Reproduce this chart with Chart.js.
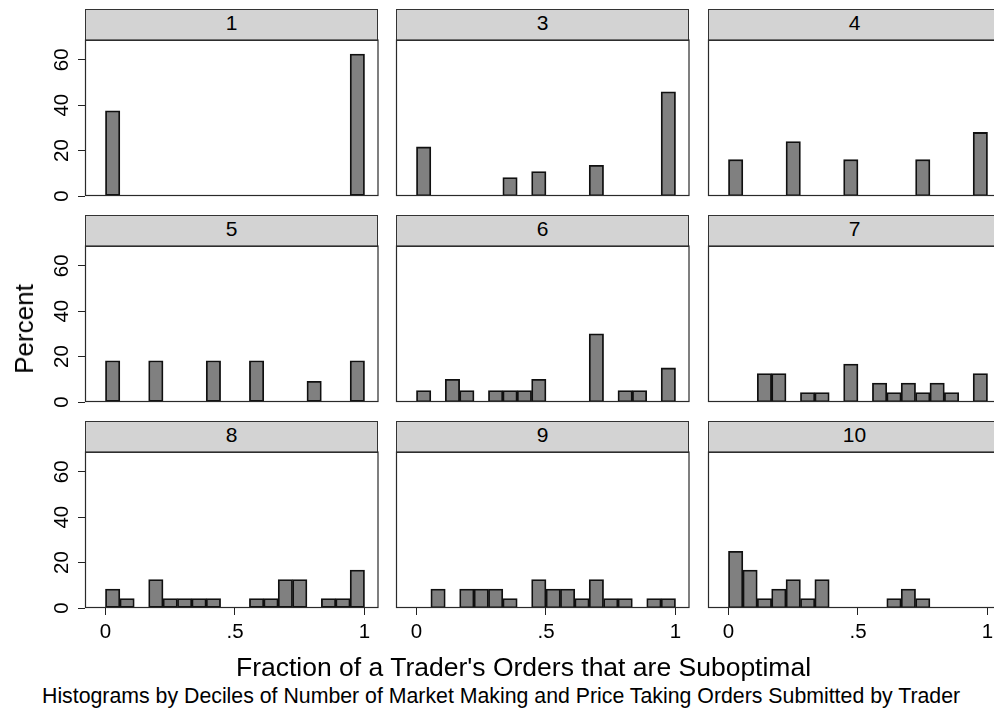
<!DOCTYPE html>
<html>
<head>
<meta charset="utf-8">
<script src="https://cdn.jsdelivr.net/npm/chart.js@4.4.1/dist/chart.umd.min.js"></script>
<style>
  html, body { margin: 0; padding: 0; background: #fff; width: 994px; height: 709px; overflow: hidden; }
  #page { position: relative; width: 994px; height: 709px; overflow: hidden;
          font-family: "Liberation Sans", Arial, sans-serif; color: #000; }
  .strip { position: absolute; box-sizing: border-box; background: #d3d3d3; border: 1px solid #333;
           text-align: center; font-size: 21px; line-height: 26px; }
  canvas { position: absolute; }
  .txt { position: absolute; white-space: nowrap; line-height: 1; }
</style>
</head>
<body>
<div id="page"></div>
<script>
// Panel labels (deciles of order counts)
const panelLabels = ['1', '3', '4', '5', '6', '7', '8', '9', '10'];

// 18 equal-width bins over [0, 1]; values are percent of traders, null = empty bin
const binCount = 18;
const decile1  = [37.5, null, null, null, null, null, null, null, null, null, null, null, null, null, null, null, null, 62.5];
const decile3  = [21.6, null, null, null, null, null, 8.1, null, 10.8, null, null, null, 13.5, null, null, null, null, 45.9];
const decile4  = [16, null, null, null, 24, null, null, null, 16, null, null, null, null, 16, null, null, null, 28];
const decile5  = [18.18, null, null, 18.18, null, null, null, 18.18, null, null, 18.18, null, null, null, 9.09, null, null, 18.18];
const decile6  = [5, null, 10, 5, null, 5, 5, 5, 10, null, null, null, 30, null, 5, 5, null, 15];
const decile7  = [null, null, 12.5, 12.5, null, 4.17, 4.17, null, 16.67, null, 8.33, 4.17, 8.33, 4.17, 8.33, 4.17, null, 12.5];
const decile8  = [8.33, 4.17, null, 12.5, 4.17, 4.17, 4.17, 4.17, null, null, 4.17, 4.17, 12.5, 12.5, null, 4.17, 4.17, 16.67];
const decile9  = [null, 8.33, null, 8.33, 8.33, 8.33, 4.17, null, 12.5, 8.33, 8.33, 4.17, 12.5, 4.17, 4.17, null, 4.17, 4.17];
const decile10 = [25, 16.67, 4.17, 8.33, 12.5, 4.17, 12.5, null, null, null, null, 4.17, 8.33, 4.17, null, null, null, null];
const panelValues = [decile1, decile3, decile4, decile5, decile6, decile7, decile8, decile9, decile10];

// Axis ticks
const xTickValues = [0, 0.5, 1];
const xTickLabels = ['0', '.5', '1'];
const yTickValues = [0, 20, 40, 60];

// Axis ranges
const xMin = -0.079, xMax = 1.052;
const yMin = 0, yMax = 68.7;

// Grid geometry
const plotLefts = [85, 396, 708];
const plotTops = [40, 246, 452];
const plotW = 293, plotH = 156, stripH = 31;
const yAxisW = 50, xAxisH = 45, pad = 2, labelRoom = 16;

const page = document.getElementById('page');
const FONT = '"Liberation Sans", Arial, sans-serif';

const framePlugin = {
  id: 'frame',
  afterDatasetsDraw(chart) {
    const { ctx, chartArea: a } = chart;
    ctx.save();
    ctx.strokeStyle = '#2a2a2a';
    ctx.lineWidth = 1.2;
    ctx.strokeRect(a.left + 0.5, a.top, a.right - a.left - 0.5, a.bottom - a.top - 0.5);
    ctx.restore();
  }
};

function zeroPadding(scale) {
  scale.paddingLeft = 0; scale.paddingRight = 0; scale.paddingTop = 0; scale.paddingBottom = 0;
}

panelValues.forEach((values, idx) => {
  const col = idx % 3, row = Math.floor(idx / 3);
  const showY = col === 0, showX = row === 2;

  // strip heading
  const strip = document.createElement('div');
  strip.className = 'strip';
  strip.style.left = plotLefts[col] + 'px';
  strip.style.top = (plotTops[row] - stripH) + 'px';
  strip.style.width = plotW + 'px';
  strip.style.height = (stripH + 1) + 'px';
  strip.textContent = panelLabels[idx];
  page.appendChild(strip);

  // room below the plot: x axis on the bottom row, otherwise space for the rotated "0" label
  const bottomPad = showX ? pad : (showY ? labelRoom : pad);
  const cw = plotW + (showY ? yAxisW : 0) + 2 * pad;
  const ch = plotH + (showX ? xAxisH : 0) + pad + bottomPad;
  const canvas = document.createElement('canvas');
  canvas.width = cw; canvas.height = ch;
  canvas.style.width = cw + 'px'; canvas.style.height = ch + 'px';
  canvas.style.left = (plotLefts[col] - (showY ? yAxisW : 0) - pad) + 'px';
  canvas.style.top = (plotTops[row] - pad) + 'px';
  page.appendChild(canvas);

  new Chart(canvas, {
    type: 'bar',
    data: {
      datasets: [{
        data: values.map((v, i) => ({ x: (i + 0.5) / binCount, y: v })),
        backgroundColor: '#808080',
        borderColor: '#101010',
        borderWidth: 1.8,
        borderSkipped: false,
        categoryPercentage: 1,
        barPercentage: 1
      }]
    },
    options: {
      responsive: false,
      animation: false,
      events: [],
      devicePixelRatio: 1,
      layout: { padding: { left: pad, right: pad, top: pad, bottom: bottomPad } },
      plugins: { legend: { display: false }, tooltip: { enabled: false } },
      scales: {
        x: {
          type: 'linear', min: xMin, max: xMax, offset: false,
          display: showX,
          grid: { offset: false, drawOnChartArea: false, drawTicks: true, tickLength: 7, color: '#222', lineWidth: 1 },
          border: { display: false },
          ticks: {
            color: '#000', font: { family: FONT, size: 20.5 }, padding: 5,
            maxRotation: 0, minRotation: 0, autoSkip: false,
            callback: (v, i) => xTickLabels[i]
          },
          afterBuildTicks: s => { s.ticks = xTickValues.map(v => ({ value: v })); },
          afterFit: s => { if (showX) { s.height = xAxisH; zeroPadding(s); } }
        },
        y: {
          type: 'linear', min: yMin, max: yMax,
          display: showY,
          grid: { drawOnChartArea: false, drawTicks: true, tickLength: 7, color: '#222', lineWidth: 1 },
          border: { display: false },
          ticks: {
            color: '#000', font: { family: FONT, size: 20.5 }, padding: 4,
            minRotation: 90, maxRotation: 90, crossAlign: 'center', autoSkip: false
          },
          afterBuildTicks: s => { s.ticks = yTickValues.map(v => ({ value: v })); },
          afterFit: s => { if (showY) { s.width = yAxisW; zeroPadding(s); } }
        }
      }
    },
    plugins: [framePlugin]
  });
});

// Axis titles and note
function addText(text, css) {
  const d = document.createElement('div');
  d.className = 'txt';
  d.textContent = text;
  Object.assign(d.style, css);
  page.appendChild(d);
}
addText('Percent', { left: '24px', top: '329px', fontSize: '26px',
  transform: 'translate(-50%, -50%) rotate(-90deg)' });
addText("Fraction of a Trader's Orders that are Suboptimal", { left: '236px', top: '654px', fontSize: '26.5px' });
addText('Histograms by Deciles of Number of Market Making and Price Taking Orders Submitted by Trader',
  { left: '42px', top: '686px', fontSize: '21.3px' });
</script>
</body>
</html>
